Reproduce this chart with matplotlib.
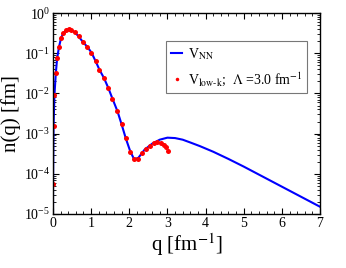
import matplotlib
matplotlib.use("Agg")
import matplotlib.pyplot as plt
from matplotlib.ticker import LogLocator, NullFormatter, MultipleLocator

plt.rcParams['font.family'] = ['Liberation Serif', 'DejaVu Serif']
plt.rcParams['mathtext.fontset'] = 'stix'

# V_NN momentum distribution (log10 of n)
q_nn = [0.001, 0.003, 0.016, 0.04, 0.075, 0.11, 0.16, 0.21, 0.27, 0.34, 0.41, 0.47,
        0.58, 0.67, 0.79, 0.90, 1.01, 1.12, 1.22, 1.34, 1.45, 1.56, 1.69, 1.80, 1.91,
        2.03, 2.13, 2.24, 2.4, 2.6, 2.8, 3.0, 3.2, 3.4, 3.6, 3.85, 4.2, 4.6, 5.0, 5.5,
        6.0, 6.5, 7.0]
log_n_nn = [-5.3, -4.25, -2.8, -2.03, -1.5, -1.12, -0.84, -0.63, -0.50, -0.43, -0.40, -0.42,
            -0.48, -0.58, -0.72, -0.84, -0.98, -1.20, -1.41, -1.62, -1.86, -2.13, -2.44, -2.77, -3.12,
            -3.45, -3.64, -3.60, -3.40, -3.25, -3.15, -3.10, -3.11, -3.15, -3.22, -3.31, -3.45, -3.63, -3.82, -4.07,
            -4.32, -4.57, -4.82]

# V_low-k points
q_lowk = [0.003, 0.016, 0.04, 0.075, 0.11, 0.16, 0.21, 0.27, 0.34, 0.41, 0.47, 0.58,
          0.67, 0.79, 0.90, 1.01, 1.12, 1.22, 1.34, 1.45, 1.56, 1.69, 1.80, 1.91, 2.03,
          2.13, 2.24, 2.34, 2.44, 2.54, 2.65, 2.74, 2.83, 2.91, 2.96, 3.01]
log_n_lowk = [-4.25, -2.8, -2.03, -1.5, -1.12, -0.84, -0.63, -0.50, -0.43, -0.40, -0.42, -0.48,
              -0.58, -0.72, -0.84, -0.98, -1.20, -1.41, -1.62, -1.86, -2.13, -2.44, -2.77, -3.12, -3.45,
              -3.64, -3.62, -3.49, -3.38, -3.30, -3.24, -3.22, -3.23, -3.28, -3.34, -3.43]

n_nn = [10 ** v for v in log_n_nn]
n_lowk = [10 ** v for v in log_n_lowk]

fig = plt.figure(figsize=(3.46, 2.68), dpi=100)
ax = fig.add_axes([0.153, 0.2015, 0.772, 0.7495])

ax.plot(q_nn, n_nn, color='#0000ff', lw=1.5, label=r'V$_{\rm NN}$')
ax.plot(q_lowk, n_lowk, 'o', color='#ff0000', ms=3.6, mew=0,
        label=r'V$_{\rm low\text{-}k}$;  $\Lambda$ =3.0 fm$^{-1}$')

ax.set_yscale('log')
ax.set_xlim(0, 7)
ax.set_ylim(1e-5, 1)
ax.xaxis.set_major_locator(MultipleLocator(1))
ax.xaxis.set_minor_locator(MultipleLocator(0.2))
ax.yaxis.set_major_locator(LogLocator(base=10, numticks=10))
ax.yaxis.set_minor_locator(LogLocator(base=10, subs=range(2, 10), numticks=10))
ax.yaxis.set_minor_formatter(NullFormatter())
ax.tick_params(which='both', direction='in', top=True, right=True, labelsize=10, pad=2)
ax.tick_params(which='major', length=4, width=0.8)
ax.tick_params(which='minor', length=2, width=0.6)
for s in ax.spines.values():
    s.set_linewidth(1.0)

ax.set_xlabel(r'q [fm$^{-1}$]', fontsize=15, labelpad=1)
ax.set_ylabel('n(q) [fm]', fontsize=15, labelpad=2)

leg = ax.legend(loc='upper right', bbox_to_anchor=(0.951, 0.861), borderaxespad=0,
                fontsize=10, frameon=True, fancybox=False, edgecolor='#555555',
                handlelength=0.8, handletextpad=0.4, borderpad=0.35, labelspacing=0.6,
                markerscale=0.7)
leg.get_frame().set_linewidth(0.8)

fig.savefig('out.png', dpi=100)
